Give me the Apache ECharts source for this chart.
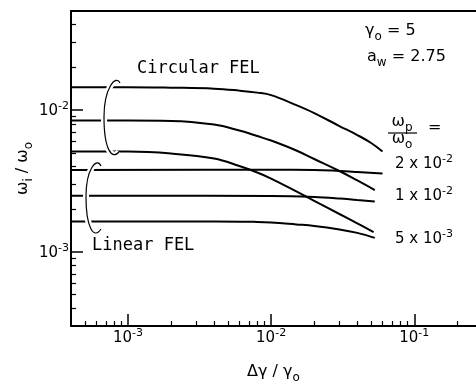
<!DOCTYPE html>
<html>
<head>
<meta charset="utf-8">
<script src="https://cdn.jsdelivr.net/npm/echarts@6/dist/echarts.min.js"></script>
<style>
html, body { margin: 0; padding: 0; background: #fff; }
#chart { width: 476px; height: 384px; }
</style>
</head>
<body>
<div id="chart"></div>
<script>
// values: x = Δγ/γ0, y = ωi/ω0
// circular FEL, ωp/ω0 = 2e-2, 1e-2, 5e-3
var circX1 = [4e-4, 1e-3, 2e-3, 4e-3, 6e-3, 8e-3, 1e-2, 1.5e-2, 2e-2, 3e-2, 4e-2, 5e-2, 6e-2];
var circY1 = [0.01452, 0.01452, 0.01440, 0.01417, 0.01372, 0.01328, 0.01275, 0.01084, 0.00953, 0.00772, 0.00667, 0.00586, 0.00510];
var circX2 = [4e-4, 1e-3, 2e-3, 4e-3, 6e-3, 8e-3, 1e-2, 1.5e-2, 2e-2, 3e-2, 4e-2, 5.3e-2];
var circY2 = [0.00843, 0.00843, 0.00839, 0.00790, 0.00717, 0.00656, 0.00610, 0.00519, 0.00452, 0.00372, 0.00319, 0.00273];
var circX3 = [4e-4, 1e-3, 2e-3, 4e-3, 6e-3, 8e-3, 1e-2, 1.5e-2, 2e-2, 3e-2, 4e-2, 5.2e-2];
var circY3 = [0.00510, 0.00510, 0.00494, 0.00455, 0.00403, 0.00363, 0.00329, 0.00267, 0.00229, 0.00185, 0.00159, 0.00138];
// linear FEL, same three ωp/ω0
var linX1 = [4e-4, 1e-2, 2e-2, 3e-2, 4e-2, 6e-2];
var linY1 = [0.00378, 0.00379, 0.00378, 0.00372, 0.00366, 0.00357];
var linX2 = [4e-4, 1e-2, 2e-2, 3e-2, 4e-2, 5.3e-2];
var linY2 = [0.00249, 0.00248, 0.00244, 0.00238, 0.00232, 0.00227];
var linX3 = [4e-4, 4e-3, 8e-3, 1e-2, 1.5e-2, 2e-2, 3e-2, 4e-2, 5.3e-2];
var linY3 = [0.00164, 0.00164, 0.001627, 0.001613, 0.001562, 0.001524, 0.00144, 0.001361, 0.001255];

// axis ranges and ticks (decades)
var xRange = [4e-4, 0.27];
var yRange = [3e-4, 0.05];
var xMajor = [-3, -2, -1];
var yMajor = [-3, -2];

var lg = Math.log10;
function minors(range) {
  var out = [];
  for (var n = -5; n <= 0; n++) {
    for (var k = 2; k <= 9; k++) {
      var v = lg(k * Math.pow(10, n));
      if (v > lg(range[0]) && v < lg(range[1])) out.push(v);
    }
  }
  return out;
}
function pts(xs, ys) {
  return xs.map(function (x, i) { return [lg(x), lg(ys[i])]; });
}

var FONT = 'DejaVu Sans';
var powRich = {
  b: { fontSize: 15, lineHeight: 18, fontFamily: FONT, color: '#000', verticalAlign: 'bottom' },
  s: { fontSize: 11, lineHeight: 6, fontFamily: FONT, color: '#000', verticalAlign: 'top' }
};
var subRich = {
  t: { fontSize: 16, lineHeight: 20, fontFamily: FONT, color: '#000', verticalAlign: 'top' },
  u: { fontSize: 12, lineHeight: 10, fontFamily: FONT, color: '#000', verticalAlign: 'bottom' },
  b: { fontSize: 15, lineHeight: 18, fontFamily: FONT, color: '#000', verticalAlign: 'bottom' },
  s: { fontSize: 11, lineHeight: 6, fontFamily: FONT, color: '#000', verticalAlign: 'top' }
};
function powFmt(v) { return '{b|10}{s|' + Math.round(v) + '}'; }

var axisLine = { show: true, lineStyle: { color: '#000', width: 2 } };

function mainAxis(range, major, pos, extra) {
  return Object.assign({
    type: 'value', position: pos,
    min: lg(range[0]), max: lg(range[1]),
    axisLine: axisLine,
    axisTick: { inside: true, length: 12, customValues: major, lineStyle: { color: '#000', width: 1.5 } },
    axisLabel: { customValues: major, formatter: powFmt, rich: powRich, margin: 2 },
    splitLine: { show: false }
  }, extra);
}
function minorAxis(range, pos) {
  return {
    type: 'value', position: pos,
    min: lg(range[0]), max: lg(range[1]),
    axisLine: { show: false },
    axisTick: { inside: true, length: 5, customValues: minors(range), lineStyle: { color: '#000', width: 1.2 } },
    axisLabel: { show: false },
    splitLine: { show: false }
  };
}

function line(name, xs, ys) {
  return {
    name: name, type: 'line', xAxisIndex: 0, yAxisIndex: 0,
    data: pts(xs, ys), showSymbol: false, symbol: 'none',
    smooth: 0.4,
    lineStyle: { color: '#000', width: 2 }
  };
}

function txt(x, y, text, rich, align) {
  return {
    type: 'text', x: x, y: y, z: 60,
    style: { text: text, rich: rich || subRich, fill: '#000', font: '16px ' + FONT, align: align || 'left', verticalAlign: 'middle' }
  };
}
function curve(x1, y1, c1x, c1y, c2x, c2y, x2, y2, color, w, z) {
  return {
    type: 'bezierCurve', z: z,
    shape: { x1: x1, y1: y1, cpx1: c1x, cpy1: c1y, cpx2: c2x, cpy2: c2y, x2: x2, y2: y2 },
    style: { stroke: color, lineWidth: w, fill: null }
  };
}
function bracket(a, b) {
  return [
    curve.apply(null, a.concat(['#fff', 6, 50])),
    curve.apply(null, b.concat(['#fff', 6, 50])),
    curve.apply(null, a.concat(['#000', 1.2, 51])),
    curve.apply(null, b.concat(['#000', 1.2, 51]))
  ];
}

var chart = echarts.init(document.getElementById('chart'));
chart.setOption({
  animation: false,
  backgroundColor: '#fff',
  grid: { left: 71, right: 0, top: 11, bottom: 58, containLabel: false, outerBoundsMode: 'none' },
  xAxis: [
    mainAxis(xRange, xMajor, 'bottom', {
      name: '{t|\u0394\u03b3 / \u03b3}{u|o}', nameLocation: 'middle', nameGap: 38,
      nameTextStyle: { rich: subRich }
    }),
    minorAxis(xRange, 'bottom'),
    { type: 'value', position: 'top', min: lg(xRange[0]), max: lg(xRange[1]),
      axisLine: axisLine, axisTick: { show: false }, axisLabel: { show: false }, splitLine: { show: false } }
  ],
  yAxis: [
    mainAxis(yRange, yMajor, 'left', {
      name: '{t|\u03c9}{u|i}{t| / \u03c9}{u|o}', nameLocation: 'middle', nameGap: 36, nameRotate: 90,
      nameMoveOverlap: false,
      nameTextStyle: { rich: subRich }
    }),
    minorAxis(yRange, 'left')
  ],
  series: [
    line('Circular FEL 2e-2', circX1, circY1),
    line('Circular FEL 1e-2', circX2, circY2),
    line('Circular FEL 5e-3', circX3, circY3),
    line('Linear FEL 2e-2', linX1, linY1),
    line('Linear FEL 1e-2', linX2, linY2),
    line('Linear FEL 5e-3', linX3, linY3)
  ],
  graphic: [].concat(
    bracket([120, 83, 116, 74, 104, 88, 104, 117], [104, 117, 104, 150, 112, 160, 119, 152]),
    bracket([101, 166, 97, 157, 86, 168, 86, 197], [86, 197, 86, 228, 94, 240, 101, 229]),
    [
      { type: 'text', x: 137, y: 69, z: 60, style: { text: 'Circular FEL', fill: '#000', font: '17px "DejaVu Sans Mono"', align: 'left', verticalAlign: 'middle' } },
      { type: 'text', x: 92, y: 246, z: 60, style: { text: 'Linear FEL', fill: '#000', font: '17px "DejaVu Sans Mono"', align: 'left', verticalAlign: 'middle' } },
      txt(365, 33, '{t|\u03b3}{u|o}{t| = 5}'),
      txt(367, 59, '{t|a}{u|w}{t| = 2.75}'),
      txt(402, 124, '{t|\u03c9}{u|p}', null, 'center'),
      { type: 'line', z: 60, shape: { x1: 388, y1: 133, x2: 417, y2: 133 }, style: { stroke: '#000', lineWidth: 1.2 } },
      txt(402, 141, '{t|\u03c9}{u|o}', null, 'center'),
      txt(428, 130, '{t|=}'),
      txt(395, 163, '{b|2 x 10}{s|-2}'),
      txt(395, 195, '{b|1 x 10}{s|-2}'),
      txt(395, 238, '{b|5 x 10}{s|-3}')
    ]
  )
});
</script>
</body>
</html>
